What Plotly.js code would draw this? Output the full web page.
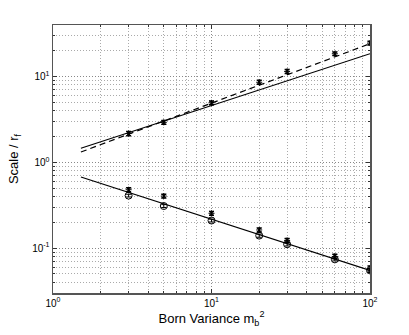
<!DOCTYPE html>
<html>
<head>
<meta charset="utf-8">
<script src="https://cdn.plot.ly/plotly-3.0.1.min.js"></script>
<style>
  html, body { margin: 0; padding: 0; background: #fff; }
  #chart { width: 409px; height: 335px; }
</style>
</head>
<body>
<div id="chart"></div>
<script>
// Born variance values where scale was measured
const bornVar = [3, 5, 10, 20, 30, 60, 100];

// Upper series (asterisks with error bars)
const upperScale = [2.17, 2.93, 4.95, 8.6, 11.5, 18.5, 24.6];
const upperErr = [0.12, 0.15, 0.25, 0.45, 0.6, 0.9, 1.2];

// Lower series: asterisks with error bars and open circles
const lowerScale = [0.48, 0.405, 0.255, 0.163, 0.123, 0.08, 0.058];
const lowerErr = [0.025, 0.02, 0.013, 0.009, 0.007, 0.005, 0.004];
const lowerCircle = [0.41, 0.31, 0.21, 0.14, 0.111, 0.074, 0.055];
const circleErr = [0.015, 0.012, 0.008, 0.006, 0.005, 0.003, 0.003];

// Fitted power-law lines (end points)
const fitX = [1.5, 100];
const fitUpperSolid = [1.46, 18.5];
const fitUpperDashed = [1.32, 24.2];
const fitLower = [0.675, 0.055];

const xTickVals = [1, 10, 100];
const xTickText = ['10<sup>0</sup>', '10<sup>1</sup>', '10<sup>2</sup>'];
const yTickVals = [0.1, 1, 10];
const yTickText = ['10<sup>-1</sup>', '10<sup>0</sup>', '10<sup>1</sup>'];

const black = '#000';

const traces = [
  { x: fitX, y: fitUpperSolid, mode: 'lines', line: { color: black, width: 1.2 } },
  { x: fitX, y: fitUpperDashed, mode: 'lines', line: { color: black, width: 1.2, dash: '6px,4px' } },
  { x: fitX, y: fitLower, mode: 'lines', line: { color: black, width: 1.2 } },
  {
    x: bornVar, y: upperScale, mode: 'markers',
    marker: { symbol: 'asterisk-open', size: 5, color: black, line: { color: black, width: 1 } },
    error_y: { type: 'data', array: upperErr, color: black, thickness: 1.5, width: 2.5 }
  },
  {
    x: bornVar, y: lowerCircle, mode: 'markers',
    marker: { symbol: 'circle-open', size: 7, color: black, line: { color: black, width: 1 } },
    error_y: { type: 'data', array: circleErr, color: black, thickness: 1, width: 2.5 }
  },
  {
    x: bornVar, y: lowerScale, mode: 'markers',
    marker: { symbol: 'asterisk-open', size: 5, color: black, line: { color: black, width: 1 } },
    error_y: { type: 'data', array: lowerErr, color: black, thickness: 1.5, width: 2.5 }
  }
];

const axisCommon = {
  type: 'log',
  showline: true,
  linecolor: '#555',
  linewidth: 1.5,
  mirror: 'ticks',
  ticks: 'inside',
  ticklen: 4,
  tickcolor: '#333',
  showgrid: true,
  gridcolor: '#888',
  griddash: '1px,2px',
  gridwidth: 1,
  zeroline: false,
  tickfont: { family: 'Liberation Sans, Arial, sans-serif', size: 10, color: '#000' },
  minor: { dtick: 'D1', ticks: 'inside', ticklen: 2, tickcolor: '#333', showgrid: true, gridcolor: '#aaa', griddash: '1px,2px', gridwidth: 1 }
};

const layout = {
  width: 409,
  height: 335,
  margin: { l: 53, r: 39, t: 25, b: 42 },
  paper_bgcolor: '#fff',
  plot_bgcolor: '#fff',
  showlegend: false,
  font: { family: 'Liberation Sans, Arial, sans-serif', size: 11, color: '#000' },
  xaxis: Object.assign({}, axisCommon, {
    range: [0, 2],
    tickvals: xTickVals,
    ticktext: xTickText,
    title: { text: 'Born Variance m<sub>b</sub><sup>2</sup>', font: { size: 13 }, standoff: 6 }
  }),
  yaxis: Object.assign({}, axisCommon, {
    range: [Math.log10(0.03), Math.log10(40)],
    tickvals: yTickVals,
    ticktext: yTickText,
    title: { text: 'Scale / r<sub>f</sub>', font: { size: 13 }, standoff: 10 }
  })
};

Plotly.newPlot('chart', traces, layout, { displayModeBar: false, staticPlot: true });
</script>
</body>
</html>
